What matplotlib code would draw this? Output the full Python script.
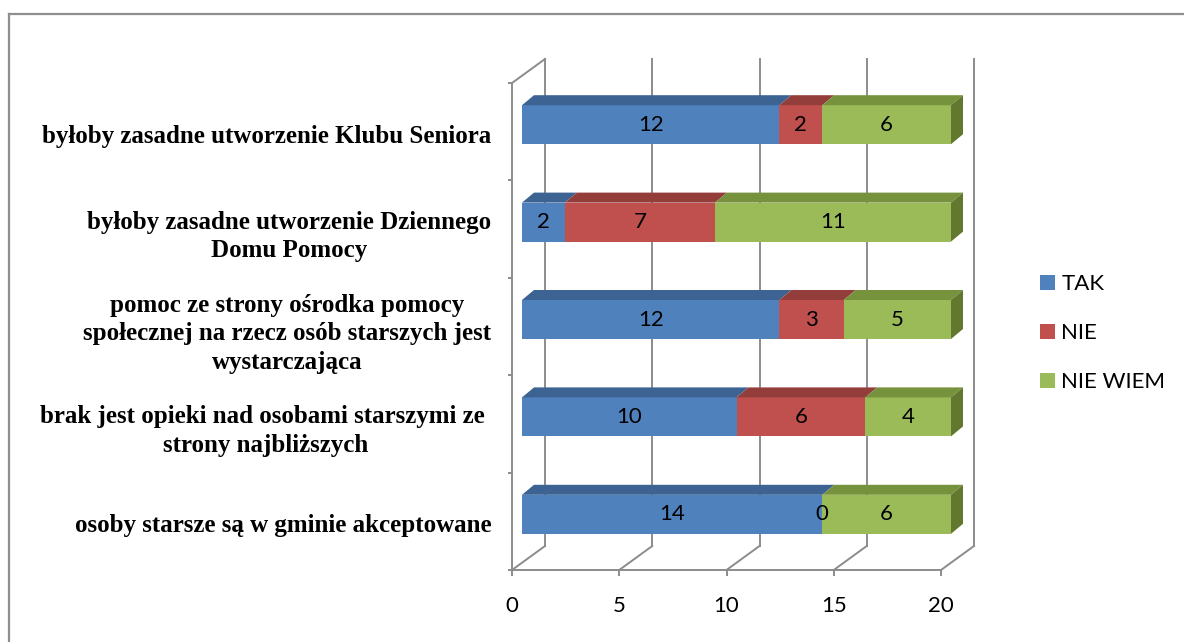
import numpy as np
import matplotlib.pyplot as plt
from matplotlib.patches import Polygon
from matplotlib.lines import Line2D

# categories listed top to bottom as in the chart
categories = [
    'byłoby zasadne utworzenie Klubu Seniora',
    'byłoby zasadne utworzenie Dziennego\nDomu Pomocy',
    'pomoc ze strony ośrodka pomocy\nspołecznej na rzecz osób starszych jest\nwystarczająca',
    'brak jest opieki nad osobami starszymi ze \nstrony najbliższych',
    'osoby starsze są w gminie akceptowane',
]
tak = [12, 2, 12, 10, 14]
nie = [2, 7, 3, 6, 0]
nie_wiem = [6, 11, 5, 4, 6]
series_names = ['TAK', 'NIE', 'NIE WIEM']
x_ticks = [0, 5, 10, 15, 20]

front_colors = ['#4F81BD', '#C0504D', '#9BBB59']
top_colors = ['#3C6392', '#943E3C', '#77923D']
side_color = '#63782F'
grid_color = '#8C8C8C'

W, H = 1184, 642
# front plane of the plot, in pixels
ax_l, ax_r, ax_t, ax_b = 512, 941, 83, 570
n = len(categories)
px_x = (ax_r - ax_l) / 20.0
px_y = (ax_b - ax_t) / float(n)

# oblique offsets (pixels -> data units)
back_dx, back_dy = 33 / px_x, 24 / px_y
bar_x0, bar_dy = 10 / px_x, 7 / px_y
bar_h = 39 / px_y
depth_dx, depth_dy = 12 / px_x, 10 / px_y

fig = plt.figure(figsize=(W / 100, H / 100), dpi=100)
ax = fig.add_axes([ax_l / W, (H - ax_b) / H, (ax_r - ax_l) / W, (ax_b - ax_t) / H])
ax.set_xlim(0, 20)
ax.set_ylim(0, n)
for s in ax.spines.values():
    s.set_visible(False)

lw = 1.4
# back wall gridlines
for x in x_ticks:
    ax.plot([x + back_dx, x + back_dx], [back_dy, n + back_dy], color=grid_color, lw=lw, zorder=1, clip_on=False)
    # floor diagonals
    ax.plot([x, x + back_dx], [0, back_dy], color=grid_color, lw=lw, zorder=1, clip_on=False)
# front floor edge and left wall
ax.plot([0, 20], [0, 0], color=grid_color, lw=lw, zorder=1, clip_on=False)
ax.plot([0, 0], [0, n], color=grid_color, lw=lw, zorder=1, clip_on=False)
ax.plot([0, back_dx], [n, n + back_dy], color=grid_color, lw=lw, zorder=1, clip_on=False)

ypos = np.arange(n)[::-1] + 0.5
series = [tak, nie, nie_wiem]
lefts = np.full(n, bar_x0)
for k, vals in enumerate(series):
    vals = np.array(vals, dtype=float)
    ax.barh(ypos + bar_dy, vals, height=bar_h, left=lefts, color=front_colors[k],
            label=series_names[k], zorder=3, clip_on=False)
    for y, l, v in zip(ypos, lefts, vals):
        yt = y + bar_dy + bar_h / 2
        if v > 0:
            ax.add_patch(Polygon([[l, yt], [l + v, yt], [l + v + depth_dx, yt + depth_dy],
                                  [l + depth_dx, yt + depth_dy]], closed=True,
                                 facecolor=top_colors[k], edgecolor='none', zorder=3, clip_on=False))
        ax.text(l + v / 2, y + bar_dy, '%d' % v, ha='center', va='center', fontsize=16,
                family='Lato', color='black', zorder=5)
    lefts = lefts + vals

for y, l in zip(ypos, lefts):
    yb = y + bar_dy - bar_h / 2
    yt = y + bar_dy + bar_h / 2
    ax.add_patch(Polygon([[l, yb], [l, yt], [l + depth_dx, yt + depth_dy], [l + depth_dx, yb + depth_dy]],
                         closed=True, facecolor=side_color, edgecolor='none', zorder=3, clip_on=False))

# axes ticks
ax.set_xticks(x_ticks)
ax.set_xticklabels([str(t) for t in x_ticks], fontsize=16, family='Lato')
ax.tick_params(axis='x', length=4, width=lw, color=grid_color, pad=15)
ax.set_yticks(ypos - 0.02)
ax.set_yticklabels(categories, fontsize=18, family='Liberation Serif', fontweight='bold',
                   linespacing=1.3)
for lab in ax.get_yticklabels():
    lab.set_multialignment('center')
ax.tick_params(axis='y', which='major', length=0, pad=15)
ax.set_yticks(np.arange(n + 1), minor=True)
ax.tick_params(axis='y', which='minor', length=3, width=lw, color=grid_color)

leg = fig.legend(loc='center left', bbox_to_anchor=(1040 / W, (H - 333) / H), frameon=False,
                 prop={'family': 'Lato', 'size': 16}, handlelength=0.66, handleheight=0.66,
                 handletextpad=0.3, labelspacing=1.3, borderpad=0, borderaxespad=0)

# outer chart border (top and left edges are visible)
fig.add_artist(Line2D([9 / W, 1.0], [(H - 14) / H, (H - 14) / H], color='#8E8E8E', lw=1.6,
                      transform=fig.transFigure))
fig.add_artist(Line2D([9 / W, 9 / W], [0.0, (H - 14) / H], color='#8E8E8E', lw=1.6,
                      transform=fig.transFigure))

fig.savefig('out.png', dpi=100)
